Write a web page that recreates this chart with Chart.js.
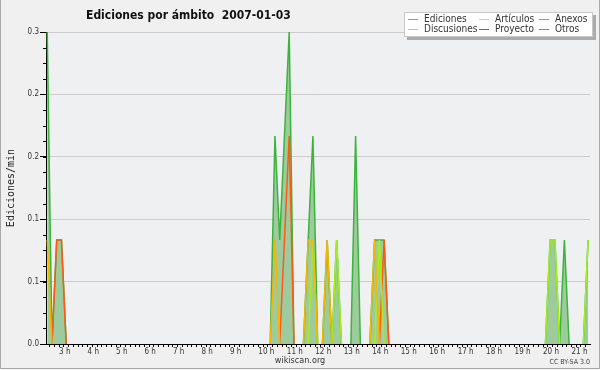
<!DOCTYPE html>
<html>
<head>
<meta charset="utf-8">
<script src="https://cdn.jsdelivr.net/npm/chart.js@4.4.1/dist/chart.umd.min.js"></script>
<style>
  html, body { margin: 0; padding: 0; background: #f0f0f0; }
  #wrap { width: 600px; height: 370px; }
</style>
</head>
<body>
<div id="wrap"><canvas id="chart" width="600" height="370"></canvas></div>
<script>
const chartTitle = 'Ediciones por ámbito  2007-01-03';
const yTitle = 'Ediciones/min';
const seriesNames = ['Ediciones', 'Discusiones', 'Artículos', 'Proyecto', 'Anexos', 'Otros'];
const seriesColors = ['#3cb43c', '#f7b500', '#a8ee1c', '#505050', '#ff5a14', '#9646e6'];
const fillColor = '#9ecb9e';

// 10-minute bins starting at 02:30, points at bin centres
const firstBinMinute = 2 * 60 + 30;
const binMinutes = 10;
const hourTicks = [3, 4, 5, 6, 7, 8, 9, 10, 11, 12, 13, 14, 15, 16, 17, 18, 19, 20, 21];
const yTicks = [0, 0.06, 0.12, 0.18, 0.24, 0.3];

const ediciones = [
  0.3, 0, 0.1, 0.1, 0, 0, 0, 0, 0, 0,
  0, 0, 0, 0, 0, 0, 0, 0, 0, 0,
  0, 0, 0, 0, 0, 0, 0, 0, 0, 0,
  0, 0, 0, 0, 0, 0, 0, 0, 0, 0,
  0, 0, 0, 0, 0, 0, 0, 0, 0.2, 0.1,
  0.2, 0.3, 0, 0, 0, 0.1, 0.2, 0, 0, 0.1,
  0, 0.1, 0, 0, 0, 0.2, 0, 0, 0, 0.1,
  0.1, 0.1, 0, 0, 0, 0, 0, 0, 0, 0,
  0, 0, 0, 0, 0, 0, 0, 0, 0, 0,
  0, 0, 0, 0, 0, 0, 0, 0, 0, 0,
  0, 0, 0, 0, 0, 0, 0.1, 0.1, 0, 0.1,
  0, 0, 0, 0, 0.1
];
const discusiones = [
  0.1, 0, 0, 0, 0, 0, 0, 0, 0, 0,
  0, 0, 0, 0, 0, 0, 0, 0, 0, 0,
  0, 0, 0, 0, 0, 0, 0, 0, 0, 0,
  0, 0, 0, 0, 0, 0, 0, 0, 0, 0,
  0, 0, 0, 0, 0, 0, 0, 0, 0.1, 0,
  0, 0, 0, 0, 0, 0.1, 0.1, 0, 0, 0.1,
  0, 0, 0, 0, 0, 0, 0, 0, 0, 0.1,
  0, 0, 0, 0, 0, 0, 0, 0, 0, 0,
  0, 0, 0, 0, 0, 0, 0, 0, 0, 0,
  0, 0, 0, 0, 0, 0, 0, 0, 0, 0,
  0, 0, 0, 0, 0, 0, 0, 0, 0, 0,
  0, 0, 0, 0, 0
];
const articulos = [
  0, 0, 0, 0, 0, 0, 0, 0, 0, 0,
  0, 0, 0, 0, 0, 0, 0, 0, 0, 0,
  0, 0, 0, 0, 0, 0, 0, 0, 0, 0,
  0, 0, 0, 0, 0, 0, 0, 0, 0, 0,
  0, 0, 0, 0, 0, 0, 0, 0, 0, 0,
  0, 0, 0, 0, 0, 0, 0.1, 0, 0, 0,
  0, 0.1, 0, 0, 0, 0, 0, 0, 0, 0,
  0.1, 0, 0, 0, 0, 0, 0, 0, 0, 0,
  0, 0, 0, 0, 0, 0, 0, 0, 0, 0,
  0, 0, 0, 0, 0, 0, 0, 0, 0, 0,
  0, 0, 0, 0, 0, 0, 0.1, 0.1, 0, 0,
  0, 0, 0, 0, 0.1
];
const proyecto = [];
const anexos = [
  0, 0, 0.1, 0.1, 0, 0, 0, 0, 0, 0,
  0, 0, 0, 0, 0, 0, 0, 0, 0, 0,
  0, 0, 0, 0, 0, 0, 0, 0, 0, 0,
  0, 0, 0, 0, 0, 0, 0, 0, 0, 0,
  0, 0, 0, 0, 0, 0, 0, 0, 0, 0,
  0.1, 0.2, 0, 0, 0, 0, 0, 0, 0, 0,
  0, 0, 0, 0, 0, 0, 0, 0, 0, 0,
  0, 0.1, 0, 0, 0, 0, 0, 0, 0, 0,
  0, 0, 0, 0, 0, 0, 0, 0, 0, 0,
  0, 0, 0, 0, 0, 0, 0, 0, 0, 0,
  0, 0, 0, 0, 0, 0, 0, 0, 0, 0,
  0, 0, 0, 0, 0
];
const otros = [];

const seriesValues = [ediciones, discusiones, articulos, proyecto, anexos, otros];

const binHour = k => (firstBinMinute + binMinutes * k + binMinutes / 2) / 60;

// hide flat runs lying on the axis
const hideZero = ctx => (ctx.p0.parsed.y === 0 && ctx.p1.parsed.y === 0) ? 'transparent' : undefined;

const datasets = seriesNames.map((name, i) => ({
  label: name,
  data: seriesValues[i].map((v, k) => ({ x: binHour(k), y: v })),
  borderColor: seriesColors[i],
  backgroundColor: i === 0 ? fillColor : seriesColors[i],
  borderWidth: 1.5,
  fill: i === 0 ? 'origin' : false,
  order: i === 0 ? 1 : 0,
  segment: { borderColor: hideZero }
}));

const FONT = "'DejaVu Sans Condensed', 'DejaVu Sans', sans-serif";

const decor = {
  id: 'decor',
  beforeDraw(chart) {
    const { ctx, chartArea: a } = chart;
    ctx.save();
    ctx.fillStyle = '#f0f0f0';
    ctx.fillRect(0, 0, chart.width, chart.height);
    ctx.fillStyle = '#eff0f2';
    ctx.fillRect(a.left, a.top, a.right - a.left, a.bottom - a.top);
    ctx.restore();
  },
  afterDraw(chart) {
    const { ctx, chartArea: a, scales: { y } } = chart;
    ctx.save();

    // minor ticks on y axis
    ctx.strokeStyle = '#000';
    ctx.lineWidth = 1;
    ctx.beginPath();
    for (let i = 1; i < 20; i++) {
      const py = Math.round(y.getPixelForValue(i * 0.015)) + 0.5;
      ctx.moveTo(a.left - 3, py);
      ctx.lineTo(a.left, py);
    }
    ctx.stroke();

    // frame
    ctx.strokeStyle = '#a8a8a8';
    ctx.beginPath();
    ctx.moveTo(0.5, 0);
    ctx.lineTo(0.5, chart.height - 1.5);
    ctx.lineTo(chart.width - 0.5, chart.height - 1.5);
    ctx.lineTo(chart.width - 0.5, 0);
    ctx.stroke();

    // title
    ctx.fillStyle = '#111';
    ctx.font = 'bold 12px ' + FONT;
    ctx.textAlign = 'left';
    ctx.textBaseline = 'alphabetic';
    ctx.fillText(chartTitle, 86, 18.5);

    // y axis title
    ctx.save();
    ctx.translate(13.5, (a.top + a.bottom) / 2);
    ctx.rotate(-Math.PI / 2);
    ctx.textAlign = 'center';
    ctx.font = "10px 'DejaVu Sans Mono', monospace";
    ctx.fillStyle = '#222';
    ctx.fillText(yTitle, 0, 0);
    ctx.restore();

    // legend box
    ctx.fillStyle = '#ababab';
    ctx.fillRect(407, 15, 189, 25);
    ctx.fillStyle = '#ffffff';
    ctx.fillRect(404, 12, 189, 25);
    ctx.strokeStyle = '#c8c8c8';
    ctx.strokeRect(404.5, 12.5, 188, 24);

    const colX = [408, 479, 539];
    const rowY = [19, 29];
    ctx.font = '10px ' + FONT;
    ctx.textBaseline = 'middle';
    chart.data.datasets.forEach((ds, i) => {
      const cx = colX[Math.floor(i / 2)];
      const cy = rowY[i % 2];
      ctx.globalAlpha = 0.85;
      ctx.strokeStyle = ds.borderColor;
      ctx.lineWidth = 1;
      ctx.beginPath();
      ctx.moveTo(cx, cy + 0.5);
      ctx.lineTo(cx + 10, cy + 0.5);
      ctx.stroke();
      ctx.globalAlpha = 1;
      ctx.fillStyle = '#333';
      ctx.fillText(ds.label, cx + 16, cy + 0.5);
    });

    // credits
    ctx.textBaseline = 'alphabetic';
    ctx.fillStyle = '#333';
    ctx.font = '9px ' + FONT;
    ctx.textAlign = 'center';
    ctx.fillText('wikiscan.org', 300, 363);
    ctx.font = '7px ' + FONT;
    ctx.textAlign = 'right';
    ctx.fillStyle = '#444';
    ctx.fillText('CC BY-SA 3.0', 590, 364);

    ctx.restore();
  }
};

new Chart(document.getElementById('chart'), {
  type: 'line',
  data: { datasets },
  options: {
    responsive: false,
    animation: false,
    layout: { padding: { top: 32, right: 10, left: 0, bottom: 0 } },
    plugins: {
      legend: { display: false },
      title: { display: false },
      tooltip: { enabled: false }
    },
    elements: {
      point: { radius: 0, hoverRadius: 0 },
      line: { tension: 0 }
    },
    scales: {
      x: {
        type: 'linear',
        min: 2.54,
        max: 21.65,
        afterBuildTicks: s => {
          const t = [];
          for (let m = Math.ceil(s.min * 6) * 10; m <= s.max * 60; m += 10) t.push({ value: m / 60 });
          s.ticks = t;
        },
        afterFit: s => { s.height = 26; },
        ticks: {
          autoSkip: false,
          maxRotation: 0,
          minRotation: 0,
          align: 'start',
          padding: 0,
          color: '#333',
          font: { family: FONT, size: 8 },
          callback: v => {
            const m = Math.round(v * 60);
            return (m % 60 === 0 && hourTicks.includes(m / 60)) ? (m / 60) + ' h' : '';
          }
        },
        grid: { drawOnChartArea: false, color: '#000', tickLength: 3 },
        border: { color: '#000', width: 1 }
      },
      y: {
        min: 0,
        max: 0.3,
        afterBuildTicks: s => { s.ticks = yTicks.map(v => ({ value: v })); },
        afterFit: s => { s.width = 46; },
        ticks: {
          padding: 1,
          color: '#333',
          font: { family: FONT, size: 8 },
          callback: v => v.toFixed(1)
        },
        grid: { color: '#cccccc', tickColor: '#000', tickLength: 6 },
        border: { color: '#000', width: 1 }
      }
    }
  },
  plugins: [decor]
});
</script>
</body>
</html>
